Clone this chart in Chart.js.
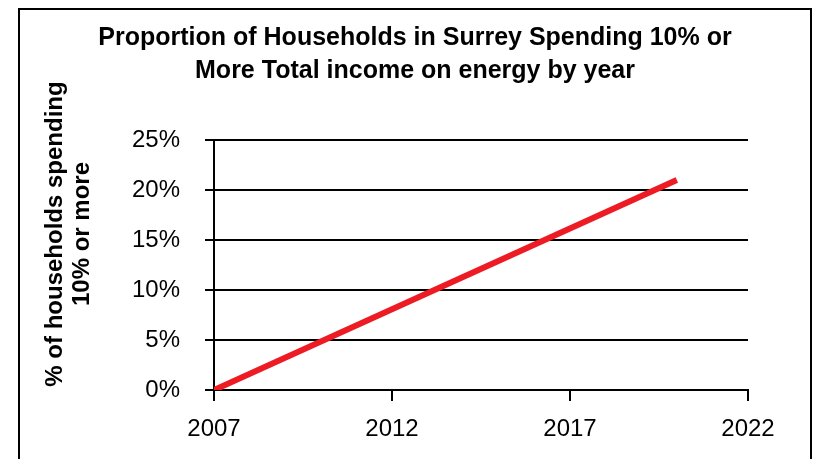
<!DOCTYPE html>
<html>
<head>
<meta charset="utf-8">
<script src="https://cdn.jsdelivr.net/npm/chart.js@4"></script>
<style>
  html, body { margin: 0; padding: 0; background: #fff; overflow: hidden; }
  #wrap { position: relative; width: 814px; height: 459px; }
  #frame {
    position: absolute; left: 18px; top: 8px; width: 790px; height: 520px;
    border: 2px solid #000; border-bottom: none;
  }
  #chart { position: absolute; left: 0; top: 0; }
</style>
</head>
<body>
<div id="wrap">
  <div id="frame"></div>
  <canvas id="chart" width="814" height="459"></canvas>
</div>
<script>
// ========================
// DATA
// ========================
const years = [2007, 2020];
const shares = [0, 21];          // % of households
const xTicks = [2007, 2012, 2017, 2022];
const yTicks = [0, 5, 10, 15, 20, 25];

const titleLines = [
  'Proportion of Households in Surrey Spending 10% or',
  'More Total income on energy by year'
];
const yLabelLines = ['% of households spending', '10% or more'];

const FONT = "'Liberation Sans', Arial, Helvetica, sans-serif";

// y axis title drawn by hand so it can sit off-centre like the original
const yLabelPlugin = {
  id: 'yLabel',
  afterDraw(chart) {
    const c = chart.ctx;
    c.save();
    c.fillStyle = '#000';
    c.font = 'bold 24px ' + FONT;
    c.textAlign = 'center';
    c.textBaseline = 'middle';
    c.translate(68, 234);
    c.rotate(-Math.PI / 2);
    c.fillText(yLabelLines[0], 0, -13);
    c.fillText(yLabelLines[1], 0, 14);
    c.restore();
  }
};

new Chart(document.getElementById('chart'), {
  type: 'line',
  data: {
    datasets: [{
      data: years.map((y, i) => ({ x: y, y: shares[i] })),
      borderColor: '#ED1C24',
      borderWidth: 6,
      pointRadius: 0,
      tension: 0
    }]
  },
  options: {
    responsive: false,
    animation: false,
    // left padding keeps the title centred where the original has it
    layout: { padding: { left: 82, right: 66, top: 0, bottom: 0 } },
    plugins: {
      legend: { display: false },
      tooltip: { enabled: false },
      title: {
        display: true,
        text: titleLines,
        color: '#000',
        font: { family: FONT, size: 25, weight: 'bold', lineHeight: 1.32 },
        padding: { top: 22, bottom: 52 }
      }
    },
    scales: {
      x: {
        type: 'linear',
        min: 2007,
        max: 2022,
        afterBuildTicks: s => { s.ticks = xTicks.map(v => ({ value: v })); },
        afterFit: s => { s.height = 69; },
        ticks: {
          color: '#000',
          padding: 14,
          maxRotation: 0,
          font: { family: FONT, size: 24 },
          callback: v => String(v)
        },
        grid: {
          drawOnChartArea: false,
          drawTicks: true,
          tickLength: 11,
          color: '#000',
          lineWidth: 2
        },
        border: { display: true, color: '#000', width: 2 }
      },
      y: {
        min: 0,
        max: 25,
        afterBuildTicks: s => { s.ticks = yTicks.map(v => ({ value: v })); },
        afterFit: s => { s.width = 132; },
        ticks: {
          color: '#000',
          padding: 25,
          font: { family: FONT, size: 24 },
          callback: v => v + '%'
        },
        grid: {
          color: '#000',
          lineWidth: 2,
          tickLength: 9
        },
        border: { display: true, color: '#000', width: 2 }
      }
    }
  },
  plugins: [yLabelPlugin]
});
</script>
</body>
</html>
